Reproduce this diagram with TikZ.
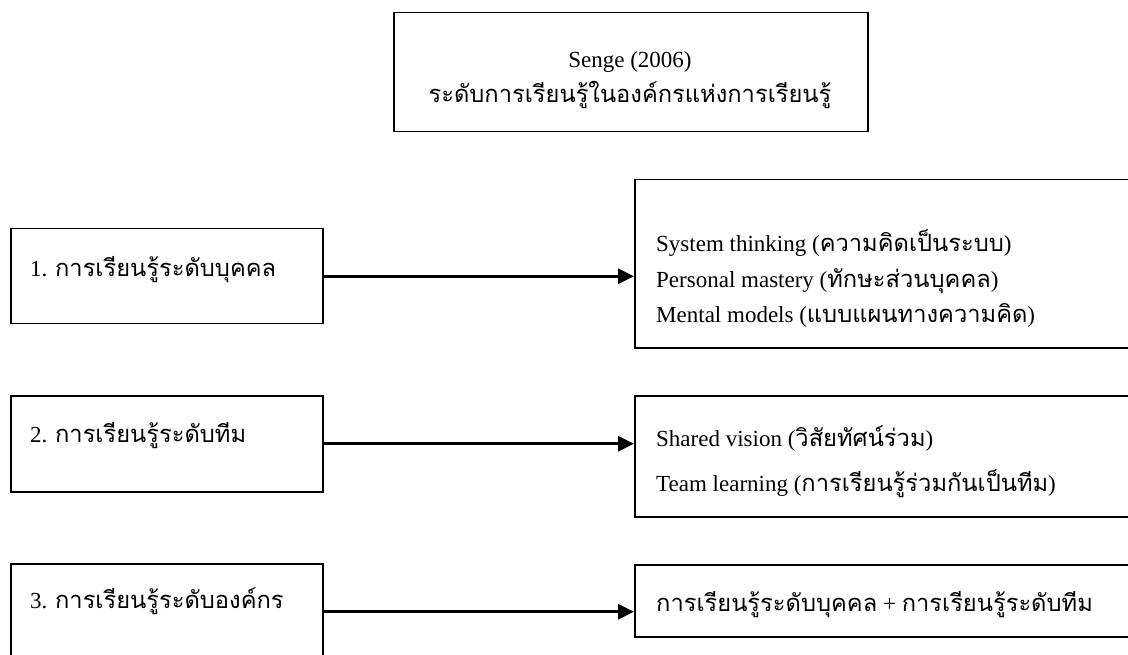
\documentclass[tikz,border=0pt]{standalone}
\usepackage{fontspec}
\setmainfont{Liberation Serif}
\newfontfamily\thaifont[Script=Thai,Scale=1.03]{Loma}
\newcommand{\thai}[1]{{\thaifont #1}}
\usetikzlibrary{positioning,arrows.meta}

\begin{document}
\begin{tikzpicture}[x=1pt,y=-1pt,
        box/.style={draw=black,line width=1.5pt,inner sep=0pt,anchor=north west},
        txt/.style={inner sep=0pt,anchor=base west,font=\fontsize{23}{28}\selectfont},
        link/.style={line width=2.6pt,-{Triangle[length=16pt,width=15pt]}}]
        \clip (0,0) rectangle (1128,655);
        \node[box,minimum width=474pt,minimum height=119pt] (head) at (393,12) {};
        \node[txt,anchor=base] (senge) at (630,68) {Senge (2006)};
        \node[txt,anchor=base] (title) at (630,103) {\thai{ระดับการเรียนรู้ในองค์กรแห่งการเรียนรู้}};
        \node[box,minimum width=312pt,minimum height=95pt] (lv1) at (10,228) {};
        \node[box,minimum width=312pt,minimum height=96pt] (lv2) at (10,395) {};
        \node[box,minimum width=312pt,minimum height=96pt] (lv3) at (10,563) {};
        \node[txt] (lv1txt) at (30,277) {1. \thai{การเรียนรู้ระดับบุคคล}};
        \node[txt] (lv2txt) at (30,442) {2. \thai{การเรียนรู้ระดับทีม}};
        \node[txt] (lv3txt) at (30,608) {3. \thai{การเรียนรู้ระดับองค์กร}};
        \node[box,minimum width=520pt,minimum height=168pt] (out1) at (634,179) {};
        \node[box,minimum width=520pt,minimum height=121pt] (out2) at (634,395) {};
        \node[box,minimum width=520pt,minimum height=72pt] (out3) at (634,564) {};
        \node[txt] (sys) at (656,252) {System thinking (\thai{ความคิดเป็นระบบ})};
        \node[txt] (pers) at (656,288) {Personal mastery (\thai{ทักษะส่วนบุคคล})};
        \node[txt] (ment) at (656,323) {Mental models (\thai{แบบแผนทางความคิด})};
        \node[txt] (shar) at (656,446) {Shared vision (\thai{วิสัยทัศน์ร่วม})};
        \node[txt] (team) at (656,491) {Team learning (\thai{การเรียนรู้ร่วมกันเป็นทีม})};
        \node[txt] (both) at (656,611) {\thai{การเรียนรู้ระดับบุคคล} + \thai{การเรียนรู้ระดับทีม}};
        \draw[link] (lv1.east) -- (lv1.east -| out1.west);
        \draw[link] (lv2.east) -- (lv2.east -| out2.west);
        \draw[link] (lv3.east) -- (lv3.east -| out3.west);
\end{tikzpicture}
\end{document}
